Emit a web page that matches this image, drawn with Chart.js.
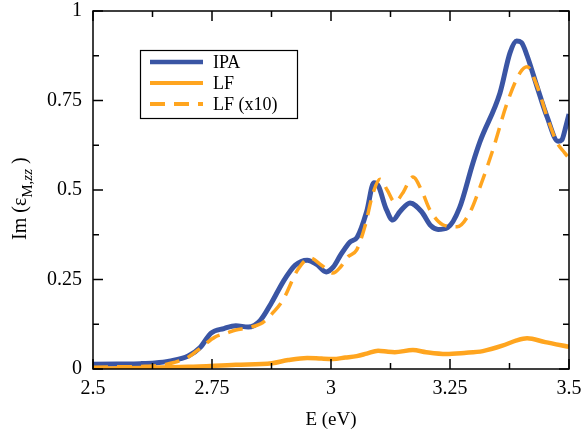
<!DOCTYPE html>
<html>
<head>
<meta charset="utf-8">
<script src="https://cdn.jsdelivr.net/npm/chart.js@4.4.1/dist/chart.umd.min.js"></script>
<style>
  html, body { margin: 0; padding: 0; background: #fff; }
  #wrap { width: 583px; height: 431px; }
</style>
</head>
<body>
<div id="wrap"><canvas id="myChart"></canvas></div>
<script>
// energies (eV) and values
const ipaE = [2.5, 2.55, 2.6, 2.63, 2.66, 2.7, 2.725, 2.748, 2.775, 2.8, 2.826, 2.851, 2.875, 2.9, 2.925, 2.95, 2.97, 2.99, 3.005, 3.02, 3.04, 3.055, 3.075, 3.09, 3.1, 3.115, 3.13, 3.145, 3.166, 3.19, 3.21, 3.225, 3.245, 3.27, 3.298, 3.313, 3.355, 3.376, 3.39, 3.4, 3.412, 3.433, 3.454, 3.477, 3.485, 3.492, 3.5]
const ipaVal = [0.013, 0.014, 0.015, 0.017, 0.022, 0.036, 0.06, 0.1, 0.113, 0.121, 0.117, 0.135, 0.185, 0.245, 0.29, 0.304, 0.292, 0.271, 0.285, 0.318, 0.355, 0.368, 0.44, 0.52, 0.51, 0.45, 0.416, 0.44, 0.464, 0.44, 0.4, 0.39, 0.395, 0.45, 0.575, 0.635, 0.771, 0.883, 0.916, 0.912, 0.875, 0.788, 0.704, 0.636, 0.64, 0.67, 0.712]

const lfE = [2.5, 2.6, 2.7, 2.8, 2.876, 2.91, 2.95, 2.98, 3.004, 3.03, 3.054, 3.075, 3.099, 3.12, 3.134, 3.172, 3.2, 3.242, 3.28, 3.319, 3.36, 3.39, 3.412, 3.45, 3.5]
const lfVal = [0.001, 0.003, 0.006, 0.012, 0.016, 0.025, 0.031, 0.029, 0.028, 0.032, 0.036, 0.043, 0.051, 0.048, 0.047, 0.053, 0.047, 0.042, 0.045, 0.05, 0.065, 0.08, 0.086, 0.075, 0.062]

const lf10E = [2.5, 2.55, 2.6, 2.64, 2.67, 2.7, 2.73, 2.756, 2.78, 2.8, 2.825, 2.857, 2.88, 2.9, 2.93, 2.956, 2.98, 3.004, 3.02, 3.035, 3.054, 3.071, 3.088, 3.103, 3.118, 3.134, 3.15, 3.172, 3.19, 3.208, 3.235, 3.265, 3.292, 3.313, 3.34, 3.37, 3.397, 3.412, 3.433, 3.454, 3.475, 3.49, 3.5]
const lf10Val = [0.005, 0.006, 0.007, 0.01, 0.018, 0.033, 0.063, 0.089, 0.1, 0.109, 0.115, 0.13, 0.16, 0.195, 0.277, 0.31, 0.29, 0.268, 0.285, 0.313, 0.333, 0.397, 0.49, 0.53, 0.5, 0.466, 0.49, 0.536, 0.5, 0.444, 0.403, 0.397, 0.438, 0.508, 0.612, 0.743, 0.827, 0.844, 0.79, 0.704, 0.632, 0.605, 0.589]

const xTicks = [2.5, 2.75, 3, 3.25, 3.5]
const yTicks = [0, 0.25, 0.5, 0.75, 1]

const BLUE = '#3a55a4'
const ORANGE = '#ffa51f'
const SERIF = '"Liberation Serif", "DejaVu Serif", serif'

const pts = (xs, ys) => xs.map((x, i) => ({x: x, y: ys[i]}))

// inward ticks on all four sides, closing box, legend and y title
const frame = {
  id: 'frame',
  afterDraw(chart) {
    const ctx = chart.ctx
    const a = chart.chartArea
    const xs = chart.scales.x, ys = chart.scales.y
    ctx.save()
    ctx.strokeStyle = '#000'
    ctx.lineWidth = 1.5
    ctx.strokeRect(a.left, a.top, a.right - a.left, a.bottom - a.top)
    ctx.beginPath()
    for (let v = 2.5; v <= 3.5001; v += 0.125) {
      const px = xs.getPixelForValue(v)
      const len = Math.abs((v - 2.5) / 0.25 - Math.round((v - 2.5) / 0.25)) < 1e-6 ? 10 : 6
      ctx.moveTo(px, a.bottom); ctx.lineTo(px, a.bottom - len)
      ctx.moveTo(px, a.top); ctx.lineTo(px, a.top + len)
    }
    for (let v = 0; v <= 1.0001; v += 0.125) {
      const py = ys.getPixelForValue(v)
      const len = Math.abs(v / 0.25 - Math.round(v / 0.25)) < 1e-6 ? 10 : 6
      ctx.moveTo(a.left, py); ctx.lineTo(a.left + len, py)
      ctx.moveTo(a.right, py); ctx.lineTo(a.right - len, py)
    }
    ctx.stroke()

    // legend
    ctx.lineWidth = 1.2
    ctx.strokeRect(140.5, 50.5, 157, 68)
    const rows = [62, 83, 104]
    chart.data.datasets.forEach((ds, i) => {
      ctx.beginPath()
      ctx.strokeStyle = ds.borderColor
      ctx.lineWidth = i === 0 ? 4.5 : 4
      ctx.setLineDash(ds.borderDash || [])
      ctx.moveTo(150, rows[i]); ctx.lineTo(203, rows[i])
      ctx.stroke()
      ctx.setLineDash([])
      ctx.fillStyle = '#000'
      ctx.font = '18px ' + SERIF
      ctx.textBaseline = 'middle'
      ctx.fillText(ds.label, 213, rows[i] + 1)
    })

    // y title: Im (ε_M,zz)
    ctx.translate(26, 240)
    ctx.rotate(-Math.PI / 2)
    ctx.fillStyle = '#000'
    ctx.textBaseline = 'alphabetic'
    ctx.font = '20px ' + SERIF
    let t = 'Im (\u03b5'
    ctx.fillText(t, 0, 0)
    let x = ctx.measureText(t).width
    ctx.font = '15px ' + SERIF
    ctx.fillText('M,', x, 6)
    x += ctx.measureText('M,').width
    ctx.font = 'italic 15px ' + SERIF
    ctx.fillText('zz', x, 6)
    x += ctx.measureText('zz').width
    ctx.font = '20px ' + SERIF
    ctx.fillText(' )', x, 0)
    ctx.restore()
  }
}

const ctx1 = document.getElementById('myChart')

const myChart = new Chart(ctx1, {
  type: 'line',
  data: {
    datasets: [{
      label: 'IPA',
      data: pts(ipaE, ipaVal),
      borderColor: BLUE,
      borderWidth: 5,
      order: 2
    }, {
      label: 'LF',
      data: pts(lfE, lfVal),
      borderColor: ORANGE,
      borderWidth: 4.5,
      order: 1
    }, {
      label: 'LF (x10)',
      data: pts(lf10E, lf10Val),
      borderColor: ORANGE,
      borderWidth: 3.5,
      borderDash: [15, 9],
      order: 0
    }]
  },
  options: {
    responsive: true,
    maintainAspectRatio: false,
    animation: false,
    events: [],
    elements: {
      point: { radius: 0 },
      line: { tension: 0.4, cubicInterpolationMode: 'monotone', fill: false }
    },
    layout: { padding: { top: 11, right: 14, left: 0, bottom: 0 } },
    plugins: {
      legend: { display: false },
      tooltip: { enabled: false }
    },
    scales: {
      x: {
        type: 'linear',
        min: 2.5,
        max: 3.5,
        afterFit: s => { s.height = 62; s.paddingLeft = 0; s.paddingRight = 0 },
        afterBuildTicks: s => { s.ticks = xTicks.map(v => ({value: v})) },
        grid: { display: false, drawTicks: false },
        border: { display: false },
        ticks: {
          padding: 8,
          color: '#000',
          font: { family: SERIF, size: 20 },
          callback: v => String(+v.toFixed(2))
        },
        title: {
          display: true,
          text: 'E (eV)',
          color: '#000',
          font: { family: SERIF, size: 19 },
          padding: { top: 2, bottom: 0 }
        }
      },
      y: {
        type: 'linear',
        min: 0,
        max: 1,
        afterFit: s => { s.width = 93; s.paddingTop = 0; s.paddingBottom = 0 },
        afterBuildTicks: s => { s.ticks = yTicks.map(v => ({value: v})) },
        grid: { display: false, drawTicks: false },
        border: { display: false },
        ticks: {
          padding: 11,
          color: '#000',
          font: { family: SERIF, size: 20 },
          callback: v => String(+v.toFixed(2))
        }
      }
    }
  },
  plugins: [frame]
})
</script>
</body>
</html>
